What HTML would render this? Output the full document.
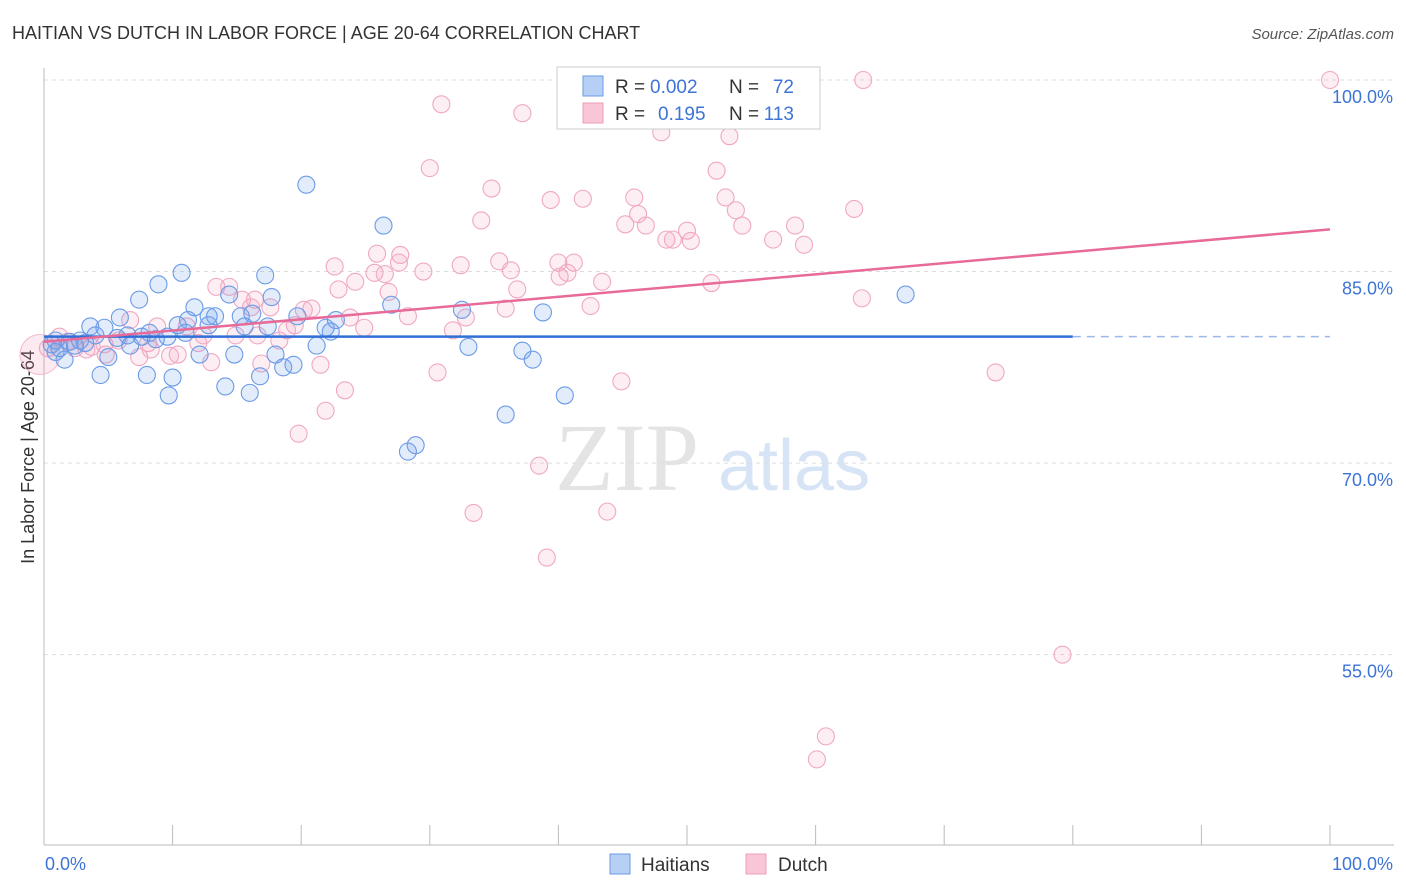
<!DOCTYPE html>
<html><head><meta charset="utf-8"><style>
body{margin:0;background:#fff;font-family:"Liberation Sans",sans-serif;}
svg{display:block}
</style></head><body>
<svg id="chart" width="1406" height="892">
<text x="12" y="39" font-size="18" fill="#333">HAITIAN VS DUTCH IN LABOR FORCE | AGE 20-64 CORRELATION CHART</text>
<text x="1394" y="39" font-size="15" fill="#555" font-style="italic" text-anchor="end">Source: ZipAtlas.com</text>
<text x="555" y="490" font-size="96" fill="#e4e4e4" font-family="Liberation Serif, serif">ZIP</text>
<text x="718" y="490" font-size="72" fill="#d6e4f5">atlas</text>
<text transform="translate(34,457) rotate(-90)" font-size="18" fill="#333" text-anchor="middle">In Labor Force | Age 20-64</text>
<g id="grid"></g><g id="pts"></g><g id="lines"></g>
<g>
<rect x="557" y="67" width="263" height="62" fill="#fff" stroke="#ccc"/>
<rect x="583" y="76" width="20" height="20" fill="#b5cff5" stroke="#6d9be6"/>
<rect x="583" y="103" width="20" height="20" fill="#f8c6d6" stroke="#ee9cb8"/>
<text x="615" y="93" font-size="19" fill="#333">R =</text>
<text x="650" y="93" font-size="19" fill="#3d74d6">0.002</text>
<text x="729" y="93" font-size="19" fill="#333">N =</text>
<text x="794" y="93" font-size="19" fill="#3d74d6" text-anchor="end">72</text>
<text x="615" y="120" font-size="19" fill="#333">R =</text>
<text x="658" y="120" font-size="19" fill="#3d74d6">0.195</text>
<text x="729" y="120" font-size="19" fill="#333">N =</text>
<text x="794" y="120" font-size="19" fill="#3d74d6" text-anchor="end">113</text>
</g>
<g>
<rect x="610" y="854" width="20" height="20" fill="#b5cff5" stroke="#6d9be6"/>
<text x="641" y="871" font-size="19" fill="#333">Haitians</text>
<rect x="746" y="854" width="20" height="20" fill="#f8c6d6" stroke="#ee9cb8"/>
<text x="778" y="871" font-size="19" fill="#333">Dutch</text>
</g>
</svg>
<script>
const yTicks=[100,85,70,55];
const yTickLabels=["100.0%","85.0%","70.0%","55.0%"];
const xTickLabels=["0.0%","100.0%"];
const haitiansX=[20.4,26.4,10.7,17.2,8.9,7.4,17.7,11.7,14.4,67.0,27.0,38.8,32.5,5.9,3.6,4.7,11.2,12.8,13.3,15.3,16.2,19.7,22.7,10.4,12.8,17.4,15.6,21.9,22.3,11.0,8.2,6.5,4.0,5.7,7.6,9.6,8.7,2.8,0.9,2.0,6.7,21.2,33.0,37.2,12.1,14.8,18.0,38.0,18.6,19.4,1.6,5.0,0.9,4.4,8.0,10.0,16.8,14.1,9.7,16.0,40.5,35.9,28.3,28.9,0.6,1.2,2.4,3.2];
const haitiansY=[91.8,88.6,84.9,84.7,84.0,82.8,83.0,82.2,83.2,83.2,82.4,81.8,82.0,81.4,80.7,80.6,81.2,81.5,81.5,81.5,81.7,81.5,81.2,80.8,80.8,80.7,80.7,80.6,80.3,80.2,80.2,80.0,80.0,79.8,79.9,79.9,79.7,79.6,79.6,79.5,79.2,79.2,79.1,78.8,78.5,78.5,78.5,78.1,77.5,77.7,78.1,78.3,78.7,76.9,76.9,76.7,76.8,76.0,75.3,75.5,75.3,73.8,70.9,71.4,79.3,79.0,79.2,79.4];
const dutchX=[100,63.7,30.9,37.2,48.0,53.3,30.0,34.8,52.3,39.4,41.9,45.9,53.0,53.8,46.2,63.0,34.0,45.2,46.8,50.0,54.3,58.4,48.4,48.9,50.3,56.7,59.1,25.9,27.7,22.6,25.7,26.5,27.6,29.5,32.4,35.4,36.3,40.0,41.2,40.7,40.1,43.4,51.9,13.4,14.4,24.2,26.8,22.9,36.8,63.6,15.4,16.4,16.1,17.6,20.2,20.8,42.5,35.9,28.3,23.8,24.9,6.7,8.8,19.5,18.9,14.9,12.4,11.1,16.6,32.8,31.8,18.3,8.1,12.0,5.8,4.7,3.7,1.8,1.2,0.3,10.4,9.8,7.4,4.8,13.0,8.3,16.9,21.5,44.9,30.6,74.0,23.4,21.9,19.8,38.5,33.4,43.8,39.1,79.2,60.8,60.1,2.4,3.3];
const dutchY=[100,100,98.1,97.4,95.9,95.6,93.1,91.5,92.9,90.6,90.7,90.8,90.8,89.8,89.5,89.9,89.0,88.7,88.6,88.2,88.6,88.6,87.5,87.5,87.4,87.5,87.1,86.4,86.3,85.4,84.9,84.8,85.7,85.0,85.5,85.8,85.1,85.7,85.7,84.9,84.6,84.2,84.1,83.8,83.8,84.2,83.4,83.6,83.6,82.9,82.8,82.8,82.2,82.2,82.0,82.1,82.3,82.1,81.5,81.4,80.6,81.2,80.7,80.8,80.4,80.0,80.0,80.7,80.0,81.4,80.4,79.6,79.4,79.4,79.6,79.3,79.1,79.5,79.9,79.0,78.5,78.4,78.3,78.5,77.9,78.9,77.8,77.7,76.4,77.1,77.1,75.7,74.1,72.3,69.8,66.1,66.2,62.6,55.0,48.6,46.8,79.0,78.9];
const blueTrend=[79.9,79.9];
const pinkTrend=[79.5,88.3];
const X=v=>44+v*12.86, Y=v=>80+(100-v)*12.77;
const NS="http://www.w3.org/2000/svg";
function mk(t,a,p){const e=document.createElementNS(NS,t);for(const k in a)e.setAttribute(k,a[k]);p.appendChild(e);return e;}
const grid=document.getElementById('grid');
yTicks.forEach((t,i)=>{
 const l=mk('line',{x1:44,x2:1394,y1:Y(t),y2:Y(t),stroke:'#ddd','stroke-dasharray':'4,4'},grid);
 
 
 const tx=mk('text',{x:1393,y:Y(t)+23,'font-size':18,fill:'#3d74d6','text-anchor':'end'},grid);
 tx.textContent=yTickLabels[i];
 
 
});
mk('line',{x1:44,x2:44,y1:68,y2:845,stroke:'#bbb'},grid);
mk('line',{x1:44,x2:1394,y1:845,y2:845,stroke:'#bbb'},grid);
for(let i=0;i<=10;i++){const t=mk('line',{x1:X(i*10),x2:X(i*10),y1:825,y2:845,stroke:'#bbb'},grid);
 
 }
[[0,'start',45],[100,'end',1393]].forEach((d,i)=>{const t=mk('text',{x:d[2],y:870,'font-size':18,fill:'#3d74d6','text-anchor':d[1]},grid);t.textContent=xTickLabels[i];
 
 });
const pts=document.getElementById('pts');
const bc=mk('circle',{cx:X(0)-4,cy:Y(78.5),r:20,fill:'rgba(240,150,180,0.2)',stroke:'#f4b8cc'},pts);


dutchX.forEach((x,i)=>{const c=mk('circle',{cx:X(x),cy:Y(dutchY[i]),r:8.5,fill:'rgba(245,160,190,0.18)',stroke:'#f0a8c2','stroke-width':1.1},pts);
 
 });
haitiansX.forEach((x,i)=>{const c=mk('circle',{cx:X(x),cy:Y(haitiansY[i]),r:8.5,fill:'rgba(110,160,235,0.2)',stroke:'#6b9be6','stroke-width':1.1},pts);
 
 });
const lines=document.getElementById('lines');
const b1=mk('line',{x1:X(0),y1:Y(blueTrend[0]),x2:X(80),y2:Y(blueTrend[0]+(blueTrend[1]-blueTrend[0])*0.8),stroke:'#2f6fd6','stroke-width':2.5},lines);


const b2=mk('line',{x1:X(80),y1:Y(blueTrend[0]+(blueTrend[1]-blueTrend[0])*0.8),x2:X(100),y2:Y(blueTrend[1]),stroke:'#9bb9ea','stroke-width':1.5,'stroke-dasharray':'8,6'},lines);


const p1=mk('line',{x1:X(0),y1:Y(pinkTrend[0]),x2:X(100),y2:Y(pinkTrend[1]),stroke:'#e86a98','stroke-width':2.5},lines);


</script>
</body></html>
